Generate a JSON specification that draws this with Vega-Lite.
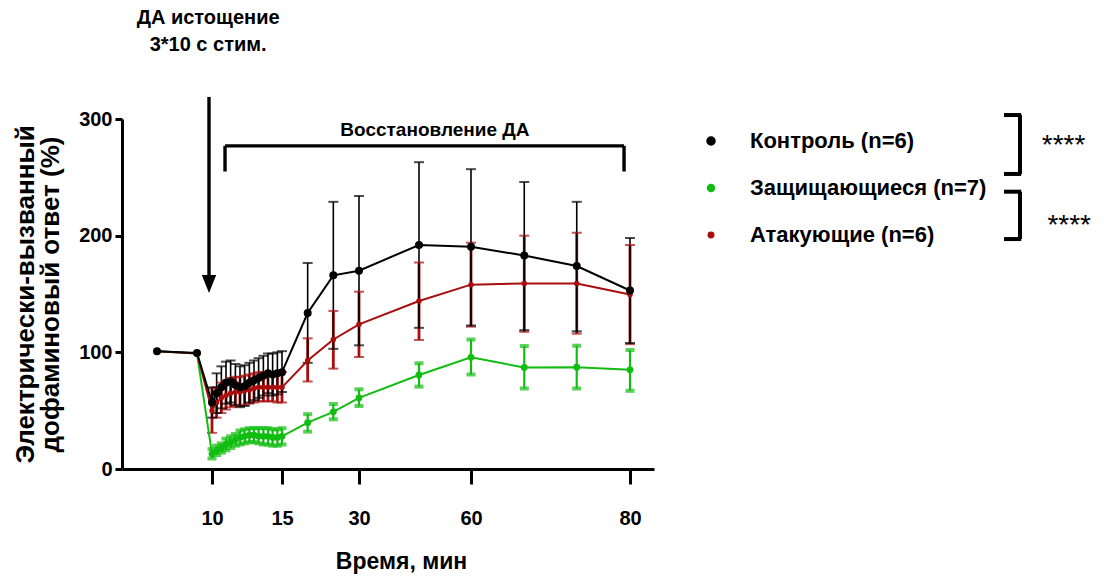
{
  "$schema": "https://vega.github.io/schema/vega-lite/v6.json",
  "autosize": "none",
  "width": 532,
  "height": 350,
  "padding": {"left": 122, "top": 119, "right": 450, "bottom": 111},
  "background": "white",
  "config": {
    "view": {"stroke": null},
    "font": "Liberation Sans",
    "axis": {"grid": false, "domainColor": "black", "tickColor": "black", "labelColor": "black", "titleColor": "black", "labelFont": "Liberation Sans", "titleFont": "Liberation Sans", "labelFontWeight": "bold", "titleFontWeight": "bold"}
  },
  "datasets": {
    "main": [
      {"g": "Защищающиеся (n=7)", "t": 0, "m": 101},
      {"g": "Защищающиеся (n=7)", "t": 5, "m": 99},
      {"g": "Защищающиеся (n=7)", "t": 10, "m": 13, "lo": 9, "hi": 17},
      {"g": "Защищающиеся (n=7)", "t": 10.33, "m": 16, "lo": 12, "hi": 20},
      {"g": "Защищающиеся (n=7)", "t": 10.67, "m": 18, "lo": 14, "hi": 22},
      {"g": "Защищающиеся (n=7)", "t": 11, "m": 21, "lo": 16, "hi": 26},
      {"g": "Защищающиеся (n=7)", "t": 11.33, "m": 23, "lo": 18, "hi": 28},
      {"g": "Защищающиеся (n=7)", "t": 11.67, "m": 25, "lo": 20, "hi": 30},
      {"g": "Защищающиеся (n=7)", "t": 12, "m": 27, "lo": 21, "hi": 33},
      {"g": "Защищающиеся (n=7)", "t": 12.33, "m": 28, "lo": 22, "hi": 34},
      {"g": "Защищающиеся (n=7)", "t": 12.67, "m": 29, "lo": 23, "hi": 35},
      {"g": "Защищающиеся (n=7)", "t": 13, "m": 29, "lo": 23, "hi": 35},
      {"g": "Защищающиеся (n=7)", "t": 13.33, "m": 28, "lo": 22, "hi": 35},
      {"g": "Защищающиеся (n=7)", "t": 13.67, "m": 28, "lo": 21, "hi": 35},
      {"g": "Защищающиеся (n=7)", "t": 14, "m": 28, "lo": 21, "hi": 35},
      {"g": "Защищающиеся (n=7)", "t": 14.33, "m": 27, "lo": 20, "hi": 34},
      {"g": "Защищающиеся (n=7)", "t": 14.67, "m": 27, "lo": 20, "hi": 34},
      {"g": "Защищающиеся (n=7)", "t": 15, "m": 28, "lo": 21, "hi": 35},
      {"g": "Защищающиеся (n=7)", "t": 20, "m": 39.7, "lo": 32, "hi": 47},
      {"g": "Защищающиеся (n=7)", "t": 25, "m": 49, "lo": 42.6, "hi": 55.7},
      {"g": "Защищающиеся (n=7)", "t": 30, "m": 61, "lo": 54, "hi": 68.3},
      {"g": "Защищающиеся (n=7)", "t": 45, "m": 80.6, "lo": 70.6, "hi": 90.6},
      {"g": "Защищающиеся (n=7)", "t": 60, "m": 95.7, "lo": 81, "hi": 111},
      {"g": "Защищающиеся (n=7)", "t": 66.7, "m": 87, "lo": 69, "hi": 105.4},
      {"g": "Защищающиеся (n=7)", "t": 73.3, "m": 87.3, "lo": 69, "hi": 105.7},
      {"g": "Защищающиеся (n=7)", "t": 80, "m": 85, "lo": 67, "hi": 102},
      {"g": "Атакующие (n=6)", "t": 0, "m": 101},
      {"g": "Атакующие (n=6)", "t": 5, "m": 99},
      {"g": "Атакующие (n=6)", "t": 10, "m": 50, "lo": 31, "hi": 69},
      {"g": "Атакующие (n=6)", "t": 10.33, "m": 57, "lo": 44, "hi": 70},
      {"g": "Атакующие (n=6)", "t": 10.67, "m": 61, "lo": 48, "hi": 74},
      {"g": "Атакующие (n=6)", "t": 11, "m": 63, "lo": 51, "hi": 76},
      {"g": "Атакующие (n=6)", "t": 11.33, "m": 65, "lo": 53, "hi": 78},
      {"g": "Атакующие (n=6)", "t": 11.67, "m": 66, "lo": 54, "hi": 79},
      {"g": "Атакующие (n=6)", "t": 12, "m": 66, "lo": 54, "hi": 79},
      {"g": "Атакующие (n=6)", "t": 12.33, "m": 67, "lo": 55, "hi": 80},
      {"g": "Атакующие (n=6)", "t": 12.67, "m": 68, "lo": 56, "hi": 81},
      {"g": "Атакующие (n=6)", "t": 13, "m": 69, "lo": 57, "hi": 82},
      {"g": "Атакующие (n=6)", "t": 13.33, "m": 70, "lo": 58, "hi": 83},
      {"g": "Атакующие (n=6)", "t": 13.67, "m": 70, "lo": 58, "hi": 83},
      {"g": "Атакующие (n=6)", "t": 14, "m": 70, "lo": 58, "hi": 83},
      {"g": "Атакующие (n=6)", "t": 14.33, "m": 70, "lo": 58, "hi": 83},
      {"g": "Атакующие (n=6)", "t": 14.67, "m": 70, "lo": 57, "hi": 83},
      {"g": "Атакующие (n=6)", "t": 15, "m": 70, "lo": 57, "hi": 83},
      {"g": "Атакующие (n=6)", "t": 20, "m": 93, "lo": 75, "hi": 112},
      {"g": "Атакующие (n=6)", "t": 25, "m": 111, "lo": 86, "hi": 135.5},
      {"g": "Атакующие (n=6)", "t": 30, "m": 124, "lo": 96, "hi": 152},
      {"g": "Атакующие (n=6)", "t": 45, "m": 144, "lo": 110.6, "hi": 177},
      {"g": "Атакующие (n=6)", "t": 60, "m": 158, "lo": 122, "hi": 194},
      {"g": "Атакующие (n=6)", "t": 66.7, "m": 159, "lo": 117.6, "hi": 200},
      {"g": "Атакующие (n=6)", "t": 73.3, "m": 159, "lo": 116, "hi": 202.5},
      {"g": "Атакующие (n=6)", "t": 80, "m": 149.5, "lo": 107, "hi": 192},
      {"g": "Контроль (n=6)", "t": 0, "m": 101},
      {"g": "Контроль (n=6)", "t": 5, "m": 99.5},
      {"g": "Контроль (n=6)", "t": 10, "m": 57, "lo": 44, "hi": 70},
      {"g": "Контроль (n=6)", "t": 10.33, "m": 65, "lo": 48, "hi": 82},
      {"g": "Контроль (n=6)", "t": 10.67, "m": 70, "lo": 52, "hi": 88},
      {"g": "Контроль (n=6)", "t": 11, "m": 74, "lo": 56, "hi": 92},
      {"g": "Контроль (n=6)", "t": 11.33, "m": 75, "lo": 57, "hi": 93},
      {"g": "Контроль (n=6)", "t": 11.67, "m": 72, "lo": 55, "hi": 90},
      {"g": "Контроль (n=6)", "t": 12, "m": 70, "lo": 53, "hi": 88},
      {"g": "Контроль (n=6)", "t": 12.33, "m": 71, "lo": 54, "hi": 89},
      {"g": "Контроль (n=6)", "t": 12.67, "m": 74, "lo": 57, "hi": 91},
      {"g": "Контроль (n=6)", "t": 13, "m": 76, "lo": 59, "hi": 93},
      {"g": "Контроль (n=6)", "t": 13.33, "m": 78, "lo": 61, "hi": 95},
      {"g": "Контроль (n=6)", "t": 13.67, "m": 80, "lo": 63, "hi": 97},
      {"g": "Контроль (n=6)", "t": 14, "m": 82, "lo": 65, "hi": 99},
      {"g": "Контроль (n=6)", "t": 14.33, "m": 81, "lo": 63, "hi": 99},
      {"g": "Контроль (n=6)", "t": 14.67, "m": 82, "lo": 64, "hi": 100},
      {"g": "Контроль (n=6)", "t": 15, "m": 83, "lo": 66, "hi": 101},
      {"g": "Контроль (n=6)", "t": 20, "m": 133.7, "lo": 91, "hi": 176.6},
      {"g": "Контроль (n=6)", "t": 25, "m": 166, "lo": 103, "hi": 229},
      {"g": "Контроль (n=6)", "t": 30, "m": 170, "lo": 106, "hi": 234},
      {"g": "Контроль (n=6)", "t": 45, "m": 192, "lo": 121, "hi": 263},
      {"g": "Контроль (n=6)", "t": 60, "m": 190.5, "lo": 123, "hi": 257},
      {"g": "Контроль (n=6)", "t": 66.7, "m": 183, "lo": 119, "hi": 246},
      {"g": "Контроль (n=6)", "t": 73.3, "m": 174, "lo": 118, "hi": 229},
      {"g": "Контроль (n=6)", "t": 80, "m": 153, "lo": 108, "hi": 198}
    ],
    "lines": [
      {"x": 9, "x2": 9, "y": 318.9, "y2": 160, "w": "a"},
      {"x": 10.93, "x2": 79.25, "y": 277, "y2": 277, "w": "a"},
      {"x": 10.93, "x2": 10.93, "y": 277, "y2": 255, "w": "a"},
      {"x": 79.25, "x2": 79.25, "y": 277, "y2": 255, "w": "a"},
      {"x": 128.75, "x2": 128.75, "y": 303.4, "y2": 252.9, "w": "b"},
      {"x": 126.75, "x2": 128.9, "y": 303.4, "y2": 303.4, "w": "b"},
      {"x": 126.75, "x2": 128.9, "y": 252.9, "y2": 252.9, "w": "b"},
      {"x": 128.75, "x2": 128.75, "y": 237.7, "y2": 197.1, "w": "b"},
      {"x": 126.75, "x2": 128.9, "y": 237.7, "y2": 237.7, "w": "b"},
      {"x": 126.75, "x2": 128.9, "y": 197.1, "y2": 197.1, "w": "b"}
    ],
    "arrowhead": [{"x": 9, "y": 158.6}],
    "topnote": [
      {"x": 8.7, "y": 386.6, "text": "ДА истощение"},
      {"x": 8.7, "y": 363.4, "text": "3*10 с стим."}
    ],
    "recovery": [
      {"x": 49.6, "y": 290.6, "text": "Восстановление ДА"}
    ],
    "stars": [
      {"x": 134.2, "y": 270, "text": "****"},
      {"x": 134.9, "y": 201.4, "text": "****"}
    ]
  },
  "data": {"name": "main"},
  "encoding": {
    "x": {
      "field": "t", "type": "quantitative",
      "scale": {"domain": [-7, 0, 5, 10, 15, 30, 45, 60, 80, 83], "range": [0, 35, 75, 90, 160, 237, 297, 349, 508, 532], "nice": false, "zero": false},
      "axis": {"values": [10, 15, 30, 60, 80], "title": "Время, мин", "tickSize": 15, "tickWidth": 3, "domainWidth": 3, "labelPadding": 24, "labelFontSize": 20, "titleFontSize": 23, "titlePadding": 22, "titleX": 279}
    },
    "y": {
      "type": "quantitative",
      "scale": {"domain": [0, 300], "nice": false},
      "axis": {"values": [0, 100, 200, 300], "title": ["Электрически-вызванный", "дофаминовый ответ (%)"], "tickSize": 7, "tickWidth": 3, "domainWidth": 3, "labelPadding": 3, "labelFontSize": 20, "titleFontSize": 26, "titlePadding": 15, "titleLineHeight": 25}
    }
  },
  "layer": [
    {
      "transform": [{"filter": "datum.lo != null"}],
      "mark": {"type": "rule"},
      "encoding": {
        "y": {"field": "lo", "type": "quantitative"},
        "y2": {"field": "hi"},
        "color": {"field": "g", "type": "nominal", "scale": {"domain": ["Контроль (n=6)", "Защищающиеся (n=7)", "Атакующие (n=6)"], "range": ["#000000", "#12bd12", "#a80e0e"]}},
        "strokeWidth": {"field": "g", "type": "nominal", "scale": {"domain": ["Контроль (n=6)", "Защищающиеся (n=7)", "Атакующие (n=6)"], "range": [1.6, 4, 1.8]}, "legend": null}
      }
    },
    {
      "transform": [{"filter": "datum.lo != null && datum.g == 'Защищающиеся (n=7)'"}, {"fold": ["lo", "hi"], "as": ["end", "v"]}],
      "mark": {"type": "tick", "orient": "horizontal", "thickness": 4, "size": 9},
      "encoding": {
        "y": {"field": "v", "type": "quantitative"},
        "color": {"field": "g", "type": "nominal"}
      }
    },
    {
      "transform": [{"filter": "datum.lo != null && datum.g != 'Защищающиеся (n=7)'"}, {"fold": ["lo", "hi"], "as": ["end", "v"]}],
      "mark": {"type": "tick", "orient": "horizontal", "thickness": 2, "size": 10},
      "encoding": {
        "y": {"field": "v", "type": "quantitative"},
        "color": {"field": "g", "type": "nominal"}
      }
    },
    {
      "mark": {"type": "line", "strokeWidth": 2},
      "encoding": {
        "y": {"field": "m", "type": "quantitative"},
        "color": {"field": "g", "type": "nominal"}
      }
    },
    {
      "mark": {"type": "point", "filled": true, "opacity": 1, "shape": "circle"},
      "encoding": {
        "y": {"field": "m", "type": "quantitative"},
        "color": {
          "field": "g", "type": "nominal",
          "legend": {
            "orient": "none", "legendX": 578, "legendY": 11, "title": null,
            "labelFont": "Liberation Sans", "labelFontSize": 22, "labelFontWeight": "bold", "labelColor": "black",
            "symbolType": "circle", "symbolSize": 36, "rowPadding": 25, "labelOffset": 28, "padding": 0,
            "labelLimit": 400, "symbolOpacity": 1,
            "encode": {"symbols": {"update": {"fill": {"scale": "color", "field": "value"}, "stroke": {"value": "transparent"}, "opacity": {"value": 1}, "fillOpacity": {"value": 1}}}}
          }
        },
        "size": {"field": "g", "type": "nominal", "scale": {"domain": ["Контроль (n=6)", "Защищающиеся (n=7)", "Атакующие (n=6)"], "range": [64, 30, 50]}, "legend": null}
      }
    },
    {
      "data": {"name": "lines"},
      "mark": {"type": "rule", "color": "black"},
      "encoding": {
        "x": {"field": "x", "type": "quantitative"},
        "x2": {"field": "x2"},
        "y": {"field": "y", "type": "quantitative"},
        "y2": {"field": "y2"},
        "strokeWidth": {"field": "w", "type": "nominal", "scale": {"domain": ["a", "b"], "range": [2, 3]}, "legend": null}
      }
    },
    {
      "data": {"name": "arrowhead"},
      "mark": {"type": "point", "filled": true, "color": "black", "opacity": 1, "shape": "M-0.8,-1L0.8,-1L0,1Z", "size": 324},
      "encoding": {
        "x": {"field": "x", "type": "quantitative"},
        "y": {"field": "y", "type": "quantitative"}
      }
    },
    {
      "data": {"name": "topnote"},
      "mark": {"type": "text", "font": "Liberation Sans", "fontWeight": "bold", "fontSize": 20, "color": "black", "align": "center", "baseline": "middle"},
      "encoding": {
        "x": {"field": "x", "type": "quantitative"},
        "y": {"field": "y", "type": "quantitative"},
        "text": {"field": "text"}
      }
    },
    {
      "data": {"name": "recovery"},
      "mark": {"type": "text", "font": "Liberation Sans", "fontWeight": "bold", "fontSize": 19, "color": "black", "align": "center", "baseline": "middle"},
      "encoding": {
        "x": {"field": "x", "type": "quantitative"},
        "y": {"field": "y", "type": "quantitative"},
        "text": {"field": "text"}
      }
    },
    {
      "data": {"name": "stars"},
      "mark": {"type": "text", "font": "Liberation Sans", "fontSize": 28, "color": "black", "align": "center", "baseline": "alphabetic"},
      "encoding": {
        "x": {"field": "x", "type": "quantitative"},
        "y": {"field": "y", "type": "quantitative"},
        "text": {"field": "text"}
      }
    }
  ]
}
